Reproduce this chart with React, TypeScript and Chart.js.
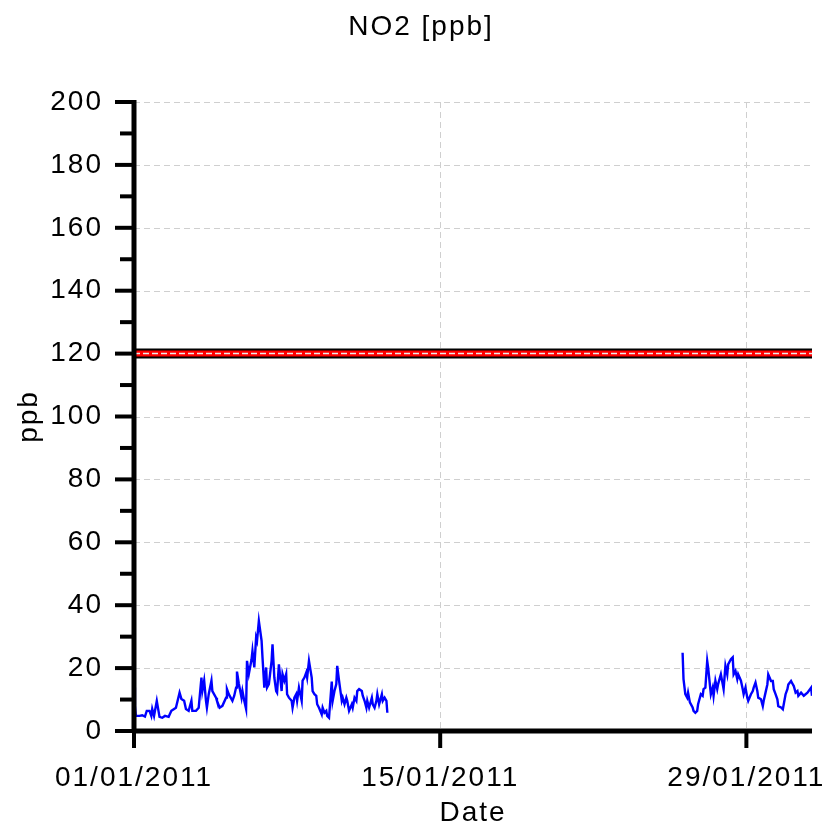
import React, { useEffect, useRef } from "react";
import { Chart, registerables } from "chart.js";

Chart.register(...registerables);

// ---- data (x = hours since 01/01/2011 00:00, y = NO2 ppb) ----
const TITLE = "NO2 [ppb]";
const Y_TITLE = "ppb";
const X_TITLE = "Date";
const X_MAX_HOURS = 744;
const X_TICK_HOURS = [0, 336, 672];
const X_TICK_LABELS = ["01/01/2011", "15/01/2011", "29/01/2011"];
const Y_MAJOR = [0, 20, 40, 60, 80, 100, 120, 140, 160, 180, 200];
const Y_MINOR = [10, 30, 50, 70, 90, 110, 130, 150, 170, 190];
const LIMIT_VALUE = 120;

const SEG_A: [number, number][] = [
  [0, 13.8], [1, 8], [2, 4.8], [6, 4.8], [9, 5.0], [12, 4.6], [14, 6.4], [17, 6.4], [19, 4.8], [20, 7.0],
  [22, 4.8], [25, 9.6], [28, 4.5], [31, 4.2], [34, 4.8], [38, 4.5], [41, 6.4], [44, 7.0], [46, 7.4], [50, 12.2],
  [52, 10.2], [55, 9.6], [57, 7.0], [60, 6.4], [63, 9.6], [64, 6.4], [68, 6.4], [71, 7.4], [74, 17.0], [75, 12.7],
  [77, 16.0], [79, 9.6], [80, 7.4], [82, 11.7], [85, 16.0], [86, 12.7], [90, 10.6], [91, 9.6], [94, 7.4], [97, 8.0],
  [101, 10.6], [102, 13.3], [104, 11.7], [108, 9.6], [110, 11.2], [112, 13.8], [113, 18.9], [115, 15.1], [118, 10.6], [119, 12.7],
  [121, 9.6], [123, 7.0], [124, 22.3], [126, 18.1], [129, 22.8], [130, 25.5], [132, 20.2], [134, 29.7], [135, 28.7], [137, 35.0],
  [140, 28.7], [141, 23.4], [143, 13.8], [145, 20.2], [146, 13.8], [148, 14.9], [151, 22.3], [152, 27.6], [154, 17.0], [156, 12.7],
  [157, 12.2], [159, 21.2], [162, 12.7], [163, 18.1], [165, 16.0], [167, 18.1], [168, 11.7], [170, 10.6], [173, 9.6], [174, 7.4],
  [176, 10.6], [178, 11.7], [179, 9.6], [181, 13.8], [184, 9.6], [185, 16.0], [187, 17.0], [189, 18.6], [190, 17.0], [192, 22.3],
  [195, 17.0], [196, 12.7], [198, 11.7], [200, 11.2], [201, 8.5], [203, 7.4], [206, 5.3], [207, 7.4], [209, 5.8], [211, 6.4],
  [212, 4.8], [214, 4.2], [217, 15.7], [218, 9.6], [220, 12.7], [222, 14.9], [223, 20.7], [225, 16.0], [228, 9.6], [229, 10.6],
  [231, 8.5], [233, 10.6], [234, 9.6], [236, 6.4], [239, 8.5], [240, 7.4], [242, 10.6], [244, 9.6], [245, 12.7], [247, 13.3],
  [250, 12.7], [251, 11.2], [253, 9.6], [255, 7.4], [256, 9.6], [258, 7.4], [261, 10.6], [262, 8.5], [264, 7.4], [266, 9.6],
  [267, 11.7], [269, 8.5], [272, 11.7], [273, 9.6], [275, 10.6], [277, 9.6], [278, 5.8],
];

const SEG_B: [number, number][] = [
  [602, 24.9], [603, 16.5], [605, 11.7], [607, 10.6], [608, 12.2], [610, 9.1], [613, 7.5], [614, 6.4], [616, 5.8], [618, 6.4],
  [619, 8.5], [622, 11.7], [624, 11.2], [625, 13.3], [627, 13.8], [629, 22.3], [630, 20.2], [633, 11.7], [635, 13.8], [636, 11.2],
  [638, 16.0], [640, 13.3], [641, 14.9], [644, 18.0], [646, 14.9], [647, 13.3], [649, 20.7], [651, 18.0], [652, 21.2], [655, 22.8],
  [657, 23.4], [658, 18.0], [660, 19.1], [662, 16.5], [663, 18.0], [666, 16.0], [668, 13.3], [669, 11.7], [671, 13.8], [673, 10.6],
  [674, 9.6], [677, 11.7], [679, 12.7], [680, 13.8], [682, 15.4], [684, 12.7], [685, 10.6], [688, 10.1], [690, 7.9], [691, 9.6],
  [693, 12.2], [695, 14.8], [696, 18.0], [699, 15.9], [701, 15.9], [702, 13.3], [704, 11.7], [706, 10.1], [707, 7.9], [710, 7.5],
  [712, 6.9], [713, 8.5], [715, 11.7], [717, 13.3], [718, 14.8], [721, 15.9], [723, 14.8], [724, 14.3], [726, 12.2], [728, 12.7],
  [729, 11.2], [732, 12.2], [735, 11.2], [739, 12.2], [743, 13.8], [744, 11.2],
];

const FONT = '"Liberation Sans", Arial, sans-serif';
const GRID = "#cfcfcf";

const toPts = (seg: [number, number][]) => seg.map(([x, y]) => ({ x, y }));
const limitPts = () => [{ x: 0, y: LIMIT_VALUE }, { x: X_MAX_HOURS, y: LIMIT_VALUE }];

const decor = {
  id: "decor",
  beforeDraw(chart: any) {
    chart.ctx.letterSpacing = "2px";
  },
  beforeDatasetsDraw(chart: any) {
    const { ctx, chartArea: a, scales } = chart;
    const x = scales.x, y = scales.y;
    ctx.save();
    ctx.strokeStyle = GRID;
    ctx.lineWidth = 1;
    ctx.setLineDash([6, 4]);
    for (const v of Y_MAJOR) {
      if (v === 0) continue;
      const py = Math.round(y.getPixelForValue(v)) + 0.5;
      ctx.beginPath();
      ctx.moveTo(a.left, py);
      ctx.lineTo(a.right, py);
      ctx.stroke();
    }
    for (const h of X_TICK_HOURS) {
      if (h === 0) continue;
      const px = Math.round(x.getPixelForValue(h)) + 0.5;
      ctx.beginPath();
      ctx.moveTo(px, a.top);
      ctx.lineTo(px, a.bottom);
      ctx.stroke();
    }
    ctx.restore();
  },
  afterDatasetsDraw(chart: any) {
    const { ctx, chartArea: a, scales } = chart;
    const x = scales.x, y = scales.y;
    ctx.save();
    ctx.setLineDash([]);
    ctx.strokeStyle = "#000";
    ctx.lineWidth = 5;
    ctx.lineCap = "butt";
    // axis lines
    ctx.beginPath();
    ctx.moveTo(a.left, a.top - 2);
    ctx.lineTo(a.left, a.bottom + 2);
    ctx.moveTo(a.left - 2, a.bottom);
    ctx.lineTo(a.right, a.bottom);
    ctx.stroke();
    // y ticks
    ctx.lineWidth = 4;
    for (const v of Y_MAJOR) {
      const py = y.getPixelForValue(v);
      ctx.beginPath();
      ctx.moveTo(a.left - 19, py);
      ctx.lineTo(a.left, py);
      ctx.stroke();
    }
    for (const v of Y_MINOR) {
      const py = y.getPixelForValue(v);
      ctx.beginPath();
      ctx.moveTo(a.left - 14, py);
      ctx.lineTo(a.left, py);
      ctx.stroke();
    }
    // x ticks
    for (const h of X_TICK_HOURS) {
      const px = x.getPixelForValue(h);
      ctx.beginPath();
      ctx.moveTo(px, a.bottom);
      ctx.lineTo(px, a.bottom + 17);
      ctx.stroke();
    }
    ctx.restore();
  },
  afterDraw(chart: any) {
    const { ctx } = chart;
    ctx.save();
    ctx.letterSpacing = "2px";
    ctx.fillStyle = "#000";
    ctx.font = `28px ${FONT}`;
    ctx.textAlign = "center";
    ctx.textBaseline = "middle";
    ctx.fillText(TITLE, 421, 27);
    ctx.restore();
  },
};

export default function App() {
  const ref = useRef<HTMLCanvasElement | null>(null);

  useEffect(() => {
    if (!ref.current) return;
    Chart.defaults.font.family = FONT;
    Chart.defaults.font.size = 28;
    Chart.defaults.color = "#000";

    const line = (data: any[], color: string, width: number, order: number, dash: number[] = []) => ({
      data,
      borderColor: color,
      backgroundColor: color,
      borderWidth: width,
      borderDash: dash,
      pointRadius: 0,
      tension: 0,
      fill: false,
      order,
      borderCapStyle: "butt",
    });

    const chart = new Chart(ref.current, {
      type: "line",
      data: {
        datasets: [
          line(limitPts(), "#ececec", 1.5, 1, [6, 3]),
          line(limitPts(), "#ff0000", 6, 2),
          line(limitPts(), "#000000", 10, 3),
          line(toPts(SEG_A), "#0000ff", 2.4, 4),
          line(toPts(SEG_B), "#0000ff", 2.4, 5),
        ] as any,
      },
      options: {
        responsive: false,
        animation: false,
        parsing: true,
        layout: { padding: { top: 102, right: 16, left: 0, bottom: 0 } },
        plugins: {
          legend: { display: false },
          tooltip: { enabled: false },
          title: { display: false },
        },
        scales: {
          x: {
            type: "linear",
            min: 0,
            max: X_MAX_HOURS,
            afterBuildTicks: (s: any) => {
              s.ticks = X_TICK_HOURS.map((v) => ({ value: v }));
            },
            afterFit: (s: any) => {
              s.height = 102;
              s.paddingLeft = 0;
              s.paddingRight = 0;
            },
            grid: { display: false, drawTicks: false },
            border: { display: false },
            ticks: {
              autoSkip: false,
              maxRotation: 0,
              padding: 30,
              callback: (_v: any, i: number) => X_TICK_LABELS[i],
            },
            title: { display: true, text: X_TITLE, padding: { top: 0, bottom: 3 } },
          },
          y: {
            type: "linear",
            min: 0,
            max: 200,
            afterBuildTicks: (s: any) => {
              s.ticks = Y_MAJOR.map((v) => ({ value: v }));
            },
            afterFit: (s: any) => {
              s.width = 134;
              s.paddingTop = 0;
              s.paddingBottom = 0;
            },
            grid: { display: false, drawTicks: false },
            border: { display: false },
            ticks: { padding: 31, callback: (v: any) => String(v) },
            title: { display: true, text: Y_TITLE, padding: { top: 12, bottom: 0 } },
          },
        },
      } as any,
      plugins: [decor],
    });
    return () => chart.destroy();
  }, []);

  return (
    <div style={{ position: "absolute", left: 0, top: 0, width: 828, height: 833, background: "#fff" }}>
      <canvas ref={ref} width={828} height={833} style={{ display: "block" }} />
    </div>
  );
}
